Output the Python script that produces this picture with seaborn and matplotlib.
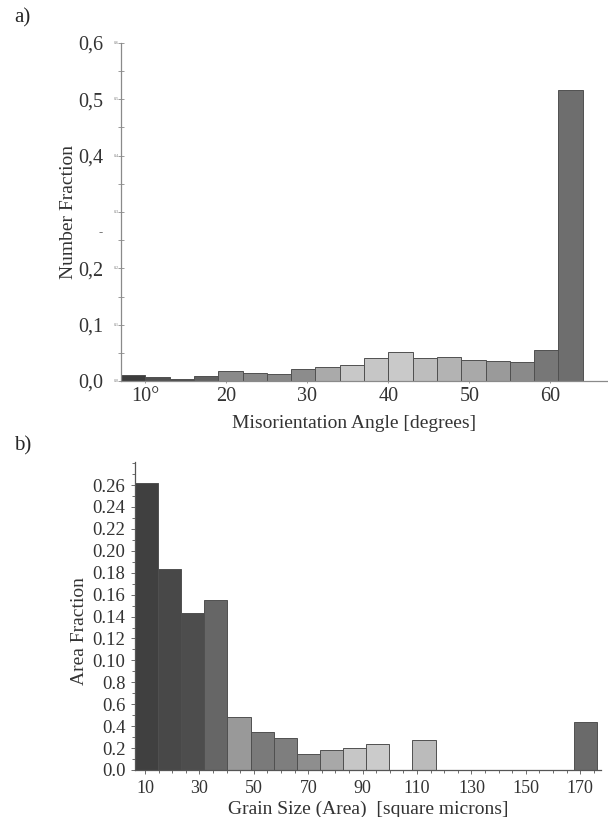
import numpy as np
import pandas as pd
import matplotlib
matplotlib.use("Agg")
import matplotlib.pyplot as plt
import matplotlib.transforms as mtransforms
import seaborn as sns

# ---------------- data: panel a ----------------
angle_centers = [8.5, 11.5, 14.5, 17.5, 20.5, 23.5, 26.5, 29.5, 32.5, 35.5,
                 38.5, 41.5, 44.5, 47.5, 50.5, 53.5, 56.5, 59.5, 62.5]
number_fraction = [0.011, 0.007, 0.004, 0.008, 0.017, 0.014, 0.013, 0.021, 0.025, 0.028,
                   0.041, 0.051, 0.041, 0.043, 0.037, 0.035, 0.034, 0.055, 0.516]
angle_colors = ["#3c3c3c", "#505050", "#4a4a4a", "#606060", "#8a8a8a", "#888888", "#888888",
                "#8c8c8c", "#aaaaaa", "#c8c8c8", "#c6c6c6", "#c9c9c9", "#bdbdbd", "#b3b3b3",
                "#a9a9a9", "#9a9a9a", "#8a8a8a", "#777777", "#6e6e6e"]
angle_ticks = [10, 20, 30, 40, 50, 60]
angle_ticklabels = ["10°", "20", "30", "40", "50", "60"]
nf_ticks = [0.0, 0.1, 0.2, 0.3, 0.4, 0.5, 0.6]
nf_big_labels = ["0,0", "0,1", "0,2", "", "0,4", "0,5", "0,6"]
nf_small_labels = ["0.0", "0.1", "0.2", "0.3", "0.4", "0.5", "0.6"]

# ---------------- data: panel b ----------------
size_centers = [10.55, 19.05, 27.55, 36.05, 44.55, 53.05, 61.55, 70.05, 78.55, 87.05,
                95.55, 112.55, 172.05]
area_fraction = [0.262, 0.183, 0.143, 0.155, 0.048, 0.035, 0.029, 0.015, 0.018, 0.020,
                 0.024, 0.027, 0.0435]
size_colors = ["#404040", "#484848", "#4d4d4d", "#666666", "#999999", "#7a7a7a", "#7e7e7e",
               "#8e8e8e", "#a8a8a8", "#c6c6c6", "#cbcbcb", "#bbbbbb", "#6a6a6a"]
size_ticks = [10, 30, 50, 70, 90, 110, 130, 150, 170]
size_ticklabels = ["10", "30", "50", "70", "90", "110", "130", "150", "170"]
af_ticks = [0.00, 0.02, 0.04, 0.06, 0.08, 0.10, 0.12, 0.14, 0.16, 0.18, 0.20, 0.22, 0.24, 0.26]
af_labels = ["0.0", "0.2", "0.4", "0.6", "0.8", "0.10", "0.12", "0.14", "0.16", "0.18",
             "0.20", "0.22", "0.24", "0.26"]

sns.set_style("ticks")
plt.rcParams["font.family"] = ["Liberation Serif", "DejaVu Serif"]
plt.rcParams["mathtext.fontset"] = "stix"

W, H = 608, 817
fig = plt.figure(figsize=(W / 100, H / 100), dpi=100)


def frac(px_l, px_t, px_r, px_b):
    return [px_l / W, 1 - px_b / H, (px_r - px_l) / W, (px_b - px_t) / H]


# ---------------- panel a ----------------
axa = fig.add_axes(frac(121, 43, 607, 381))
dfa = pd.DataFrame({"angle": angle_centers, "frac": number_fraction})
sns.barplot(data=dfa, x="angle", y="frac", hue="angle", palette=angle_colors,
            native_scale=True, width=1, dodge=False, legend=False, errorbar=None,
            edgecolor="#505050", linewidth=0.7, ax=axa)
axa.set_xlim(7, 67)
axa.set_ylim(0, 0.6)
sns.despine(ax=axa)
for s in ["left", "bottom"]:
    axa.spines[s].set_color("#8a8a8a")
    axa.spines[s].set_linewidth(0.9)
axa.set_xticks(angle_ticks)
axa.set_xticklabels(angle_ticklabels, fontsize=14.5, color="#333333")
axa.set_yticks(nf_ticks)
axa.set_yticklabels(nf_big_labels, fontsize=14.5, color="#333333")
axa.set_yticks(np.arange(0.05, 0.6, 0.1), minor=True)
axa.tick_params(axis="y", which="major", direction="inout", length=4, width=0.6,
                color="#8a8a8a", pad=11)
axa.tick_params(axis="y", which="minor", direction="inout", length=4, width=0.6,
                color="#8a8a8a")
axa.tick_params(axis="x", which="major", direction="inout", length=3, width=0.6,
                color="#8a8a8a", pad=3)
offs = mtransforms.offset_copy(axa.get_yaxis_transform(), fig=fig, x=-2, y=0, units="dots")
for v, lab in zip(nf_ticks, nf_small_labels):
    axa.text(0, v, lab, transform=offs, fontsize=3, ha="right", va="center", color="#777777")
axa.set_xlabel("Misorientation Angle [degrees]", fontsize=14, color="#333333")
axa.xaxis.set_label_coords(0.48, -0.1)
axa.set_ylabel("Number Fraction", fontsize=14, color="#333333")
axa.yaxis.set_label_coords(-0.09, 0.5)
axa.text(-0.043, 0.438, "-", transform=axa.transAxes, fontsize=9, color="#777777",
         ha="center", va="center")
fig.text(22 / W, 1 - 18 / H, "a)", fontsize=15, ha="center", va="center")

# ---------------- panel b ----------------
axb = fig.add_axes(frac(135, 462, 600.7, 770))
dfb = pd.DataFrame({"size": size_centers, "frac": area_fraction})
sns.barplot(data=dfb, x="size", y="frac", hue="size", palette=size_colors,
            native_scale=True, width=1, dodge=False, legend=False, errorbar=None,
            edgecolor="#505050", linewidth=0.7, ax=axb)
axb.set_xlim(6.3, 177.5)
axb.set_ylim(0, 0.281)
sns.despine(ax=axb)
for s in ["left", "bottom"]:
    axb.spines[s].set_color("#555555")
    axb.spines[s].set_linewidth(0.9)
axb.set_xticks(size_ticks)
axb.set_xticklabels(size_ticklabels, fontsize=13, color="#333333")
axb.set_xticks(np.arange(15, 177, 5), minor=True)
axb.set_yticks(af_ticks)
axb.set_yticklabels(af_labels, fontsize=13.5, color="#333333")
axb.set_yticks(np.arange(0.01, 0.281, 0.01), minor=True)
axb.tick_params(axis="both", which="major", direction="out", length=3, width=0.6,
                color="#555555", pad=4)
axb.tick_params(axis="both", which="minor", direction="out", length=2, width=0.6,
                color="#555555")
axb.set_xlabel("Grain Size (Area)  [square microns]", fontsize=14, color="#333333")
axb.xaxis.set_label_coords(0.5, -0.1)
axb.set_ylabel("Area Fraction", fontsize=14, color="#333333")
axb.yaxis.set_label_coords(-0.1, 0.45)
fig.text(23 / W, 1 - 446 / H, "b)", fontsize=15, ha="center", va="center")

fig.savefig("out.png", dpi=100)
